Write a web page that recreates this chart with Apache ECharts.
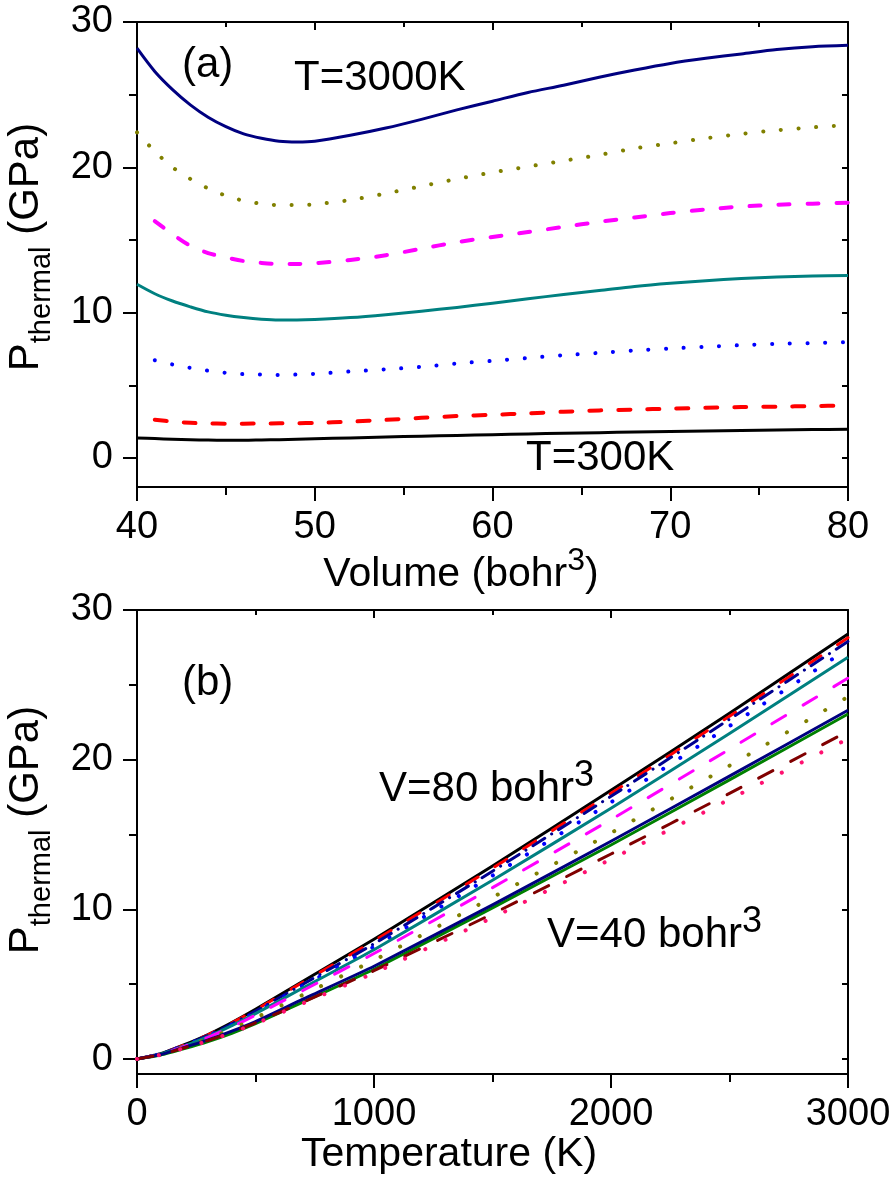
<!DOCTYPE html>
<html>
<head>
<meta charset="utf-8">
<script src="https://cdn.jsdelivr.net/npm/echarts@6/dist/echarts.min.js"></script>
<style>
html,body{margin:0;padding:0;background:#fff;}
#chart{width:894px;height:1183px;}
</style>
</head>
<body>
<div id="chart"></div>
<script>
// ---------- Panel (a): P_thermal vs Volume ----------
const volumes = [40,41,42,43,44,45,46,47,48,49,50,52,54,56,58,60,62,64,66,68,70,72,74,76,78,80];
const aT300  = [1.38,1.33,1.28,1.25,1.23,1.22,1.22,1.24,1.26,1.29,1.32,1.38,1.44,1.5,1.55,1.6,1.65,1.7,1.74,1.78,1.82,1.86,1.89,1.92,1.95,1.98];
const aCurve2 = [null,2.63,2.5,2.42,2.37,2.36,2.36,2.37,2.38,2.39,2.41,2.5,2.62,2.76,2.88,2.97,3.07,3.18,3.27,3.33,3.39,3.45,3.5,3.53,3.57,3.6];
const aCurve3 = [null,6.72,6.43,6.2,6.0,5.86,5.77,5.74,5.71,5.74,5.79,5.95,6.1,6.27,6.5,6.68,6.88,7.07,7.23,7.4,7.53,7.65,7.76,7.85,7.9,7.97];
const aCurve4 = [11.95,11.3,10.8,10.4,10.05,9.82,9.66,9.55,9.5,9.5,9.53,9.66,9.86,10.1,10.36,10.65,10.95,11.25,11.52,11.8,12.02,12.2,12.35,12.45,12.52,12.56];
const aCurve5 = [null,16.3,15.4,14.6,14.1,13.8,13.55,13.42,13.35,13.35,13.4,13.62,13.95,14.4,14.85,15.2,15.55,15.9,16.25,16.55,16.85,17.1,17.3,17.42,17.5,17.57];
const aCurve6 = [22.4,21.1,20.0,19.2,18.55,18.05,17.7,17.5,17.4,17.4,17.45,17.75,18.2,18.7,19.2,19.65,20.05,20.45,20.85,21.3,21.65,22.0,22.3,22.55,22.75,22.9];
const aT3000 = [28.2,26.6,25.35,24.3,23.45,22.8,22.3,22.0,21.8,21.75,21.8,22.2,22.7,23.3,23.95,24.55,25.15,25.65,26.2,26.7,27.15,27.5,27.8,28.1,28.3,28.4];

// ---------- Panel (b): P_thermal vs Temperature ----------
const temps = [0,100,200,300,400,500,700,1000,1500,2000,2500,3000];
const bV80   = [0,0.36,0.96,1.64,2.44,3.32,5.2,8.0,12.9,17.95,23.1,28.4];
const bCur2  = [0,0.36,0.95,1.62,2.41,3.28,5.13,7.9,12.75,17.75,22.9,28.15];
const bCur3  = [0,0.35,0.92,1.58,2.35,3.2,5.0,7.7,12.55,17.55,22.7,27.9];
const bCur4  = [0,0.34,0.9,1.54,2.29,3.11,4.88,7.5,12.25,17.15,22.25,27.4];
const bCur5  = [0,0.33,0.88,1.5,2.23,3.03,4.75,7.3,11.95,16.75,21.75,26.85];
const bCur6  = [0,0.32,0.85,1.45,2.15,2.93,4.58,7.05,11.45,16.0,20.7,25.45];
const bCur7  = [0,0.3,0.8,1.36,2.01,2.74,4.29,6.6,10.8,15.1,19.6,24.2];
const bCur8  = [0,0.3,0.78,1.28,1.86,2.5,4.0,6.2,10.3,14.55,18.9,23.3];
const bCur9  = [0,0.27,0.7,1.17,1.72,2.36,3.8,6.0,10.1,14.3,18.65,23.05];
const bCur10 = [0,0.29,0.75,1.24,1.8,2.42,3.8,5.9,9.7,13.7,17.75,21.9];
const bV40   = [0,0.28,0.73,1.21,1.76,2.36,3.72,5.75,9.45,13.35,17.35,21.4];

// ---------- Tick values ----------
const yMajorTicks = [0,10,20,30];
const yMinorTicks = [5,15,25];
const yAllTicks = [0,5,10,15,20,25,30];

const FONT = "'Liberation Sans', Arial, Helvetica, sans-serif";
const pairs = (xs, ys) => xs.map((x, i) => [x, ys[i]]);

const axisLine = {show:true, onZero:false, lineStyle:{color:'#000', width:2}};
const tickStyle = {color:'#000', width:2};
const labelStyle = {color:'#000', fontSize:38, fontFamily:FONT, margin:22, formatter: v => String(v)};

function xAxes(grid, min, max, interval) {
  return [
    {gridIndex:grid, type:'value', min, max, interval, position:'bottom',
     axisLine, axisTick:{show:true, inside:false, length:14, lineStyle:tickStyle},
     minorTick:{show:true, splitNumber:2, length:8, lineStyle:tickStyle},
     axisLabel:labelStyle, splitLine:{show:false}, minorSplitLine:{show:false}},
    {gridIndex:grid, type:'value', min, max, interval, position:'top',
     axisLine, axisTick:{show:true, inside:true, length:8, lineStyle:tickStyle},
     minorTick:{show:true, splitNumber:2, length:5, lineStyle:tickStyle},
     axisLabel:{show:false}, splitLine:{show:false}, minorSplitLine:{show:false}}
  ];
}
function yAxes(grid, min, max) {
  return [
    {gridIndex:grid, type:'value', min, max, position:'left', offset:0,
     axisLine, axisTick:{show:true, inside:false, length:14, customValues:yMajorTicks, lineStyle:tickStyle},
     axisLabel:Object.assign({}, labelStyle, {margin:24, customValues:yMajorTicks}),
     splitLine:{show:false}},
    {gridIndex:grid, type:'value', min, max, position:'left', offset:0,
     axisLine:{show:false}, axisTick:{show:true, inside:false, length:8, customValues:yMinorTicks, lineStyle:tickStyle},
     axisLabel:{show:false}, splitLine:{show:false}},
    {gridIndex:grid, type:'value', min, max, position:'right', offset:0,
     axisLine, axisTick:{show:true, inside:true, length:6, customValues:yAllTicks, lineStyle:tickStyle},
     axisLabel:{show:false}, splitLine:{show:false}}
  ];
}

function line(name, xi, yi, xs, ys, color, width, type, cap, smooth) {
  return {name, type:'line', xAxisIndex:xi, yAxisIndex:yi, data:pairs(xs, ys),
    showSymbol:false, symbol:'none', smooth: smooth, connectNulls:false,
    lineStyle:{color, width, type, cap: cap || 'butt', join:'round'}, z:3, animation:false};
}
const SA = 0.3, SB = 0.15;

const series = [
  line('T=300K', 0, 0, volumes, aT300, '#000000', 3, 'solid', 'butt', SA),
  line('a2', 0, 0, volumes, aCurve2, '#FF0000', 4, [12,17], 'round', SA),
  line('a3', 0, 0, volumes, aCurve3, '#0000FF', 4, [0.1,17.6], 'round', SA),
  line('a4', 0, 0, volumes, aCurve4, '#008080', 3, 'solid', 'butt', SA),
  line('a5', 0, 0, volumes, aCurve5, '#FF00FF', 4, [11,18], 'round', SA),
  line('a6', 0, 0, volumes, aCurve6, '#808000', 4, [0.1,17.6], 'round', SA),
  line('T=3000K', 0, 0, volumes, aT3000, '#000080', 3, 'solid', 'butt', SA),

  line('V=80', 2, 3, temps, bV80, '#000000', 3, 'solid', 'butt', SB),
  line('b2', 2, 3, temps, bCur2, '#FF0000', 3, [14,20], 'round', SB),
  line('b3', 2, 3, temps, bCur3, '#000090', 3, [14,8,0.1,8], 'round', SB),
  line('b4', 2, 3, temps, bCur4, '#0000FF', 4, [0.1,20], 'round', SB),
  line('b5', 2, 3, temps, bCur5, '#008080', 3, 'solid', 'butt', SB),
  line('b6', 2, 3, temps, bCur6, '#FF00FF', 3, [16,20], 'round', SB),
  line('b7', 2, 3, temps, bCur7, '#808000', 4, [0.1,22], 'round', SB),
  line('b9', 2, 3, temps, bCur9, '#008000', 3, 'solid', 'butt', SB),
  line('b8', 2, 3, temps, bCur8, '#000080', 3, 'solid', 'butt', SB),
  line('b10', 2, 3, temps, bCur10, '#800000', 3, [16,20], 'round', SB),
  line('V=40', 2, 3, temps, bV40, '#FF1070', 4, [0.1,22], 'round', SB)
];

function txt(x, y, text, size, align) {
  return {type:'text', x, y, z:10, silent:true,
    style:{text, fill:'#000', font:`${size}px ${FONT}`, fontSize:size, fontFamily:FONT,
      align:align||'left', textAlign:align||'left', verticalAlign:'middle', textVerticalAlign:'middle'}};
}
function supTxt(x, y, main, sup, tail, size, supSize, lh, align) {
  const t = '{m|' + main + '}{s|' + sup + '}' + (tail ? '{m|' + tail + '}' : '');
  return {type:'text', x, y, z:10, silent:true,
    style:{text:t, fill:'#000', align:align||'left', textAlign:align||'left', verticalAlign:'middle', textVerticalAlign:'middle',
      rich:{
        m:{fontSize:size, fontFamily:FONT, fill:'#000', lineHeight:lh, verticalAlign:'bottom'},
        s:{fontSize:supSize, fontFamily:FONT, fill:'#000', lineHeight:supSize, verticalAlign:'top'}
      }}};
}
function yTitle(x, y) {
  return {type:'text', x, y, rotation:Math.PI/2, z:10, silent:true,
    style:{text:'{m|P}{b|thermal}{m| (GPa)}', fill:'#000', align:'center', textAlign:'center', verticalAlign:'middle', textVerticalAlign:'middle',
      rich:{
        m:{fontSize:42, fontFamily:FONT, fill:'#000', lineHeight:48, verticalAlign:'top'},
        b:{fontSize:29, fontFamily:FONT, fill:'#000', lineHeight:28, padding:[22,0,0,0], verticalAlign:'top'}
      }}};
}

const option = {
  backgroundColor:'#fff',
  animation:false,
  grid:[
    {left:137, top:22, width:711, height:465, outerBoundsMode:'none', containLabel:false},
    {left:137, top:610, width:711, height:464, outerBoundsMode:'none', containLabel:false}
  ],
  xAxis:[...xAxes(0, 40, 80, 10), ...xAxes(1, 0, 3000, 1000)],
  yAxis:[...yAxes(0, -2, 30), ...yAxes(1, -1, 30)],
  series,
  graphic:[
    txt(182, 65, '(a)', 42),
    txt(294, 78, 'T=3000K', 42),
    txt(526, 458, 'T=300K', 42),
    txt(182, 683, '(b)', 42),
    supTxt(379, 784, 'V=80 bohr', '3', '', 42, 36, 52),
    supTxt(547, 930, 'V=40 bohr', '3', '', 42, 36, 52),
    supTxt(461, 570, 'Volume (bohr', '3', ')', 41, 32, 50, 'center'),
    txt(449, 1155, 'Temperature (K)', 41, 'center'),
    yTitle(29, 247),
    yTitle(29, 830)
  ]
};

const chart = echarts.init(document.getElementById('chart'), null, {renderer:'canvas', width:894, height:1183});
chart.setOption(option);
</script>
</body>
</html>
